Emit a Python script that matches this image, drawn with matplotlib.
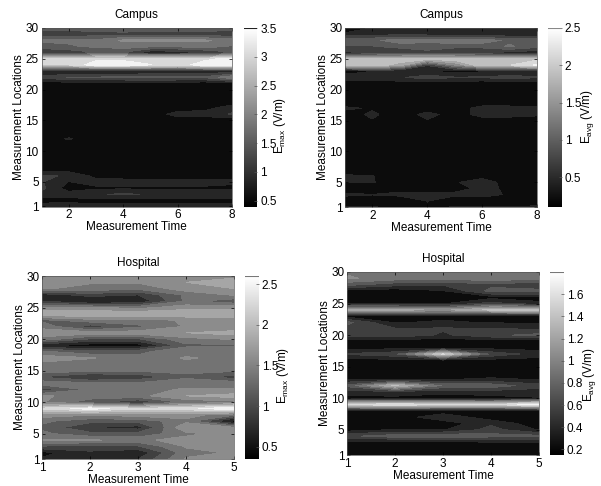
import numpy as np
import matplotlib
matplotlib.use('Agg')
import matplotlib.pyplot as plt
from matplotlib.cm import ScalarMappable
from matplotlib.colors import Normalize

plt.rcParams['font.family'] = ['Liberation Sans', 'DejaVu Sans']
plt.rcParams['mathtext.default'] = 'regular'

W, H = 601, 486

locations = np.arange(1, 31)
time_campus = np.arange(1, 9)
time_hospital = np.arange(1, 6)

# rows are measurement locations 1..30, columns are measurement times
campus_max = [
    [.90, .90, .80, .85, .90, .90, .85, .85],
    [.55, .60, .60, .60, .55, .55, .60, .60],
    [.95, .85, 1.0, 1.05, 1.0, 1.0, 1.0, 1.0],
    [1.1, .55, .65, .65, .65, .65, .65, .60],
    [1.05, .70, .85, .85, .85, .85, .85, .80],
    [1.05, 1.0, .60, .55, .55, .55, .55, .55],
    [.55, .55, .40, .50, .50, .50, .50, .50],
    [.50, .50, .50, .50, .50, .45, .50, .50],
    [.42, .42, .50, .50, .50, .50, .50, .50],
    [.42, .45, .50, .50, .50, .50, .50, .50],
    [.50, .50, .50, .50, .50, .50, .50, .50],
    [.50, .75, .50, .50, .50, .50, .50, .50],
    [.50, .50, .50, .50, .50, .50, .50, .50],
    [.42, .42, .42, .50, .50, .50, .50, .50],
    [.50, .50, .50, .50, .50, .50, .50, .50],
    [.50, .50, .50, .50, .50, .85, .85, 1.05],
    [.50, .50, .50, .50, .50, .55, .60, .90],
    [.50, .50, .50, .50, .50, .50, .50, .50],
    [.50, .50, .50, .50, .50, .50, .50, .50],
    [.50, .50, .50, .50, .50, .50, .50, .50],
    [.55, .55, .55, .55, .60, .55, .50, .60],
    [1.1, 1.35, 1.35, 1.4, 1.4, 1.4, 1.4, 1.9],
    [.75, .65, .65, .65, .70, .80, .75, .80],
    [2.9, 2.9, 3.4, 3.4, 3.2, 3.0, 3.4, 3.4],
    [2.9, 2.9, 3.1, 3.1, 3.1, 3.1, 3.1, 3.3],
    [1.0, 1.1, 1.3, 1.3, .75, .80, 1.0, 1.3],
    [1.5, 1.6, 1.7, 1.8, 1.7, 1.7, 1.8, 1.6],
    [1.7, 1.7, 1.7, 2.0, 2.0, 2.0, 2.0, 1.8],
    [1.1, 1.1, 1.2, 1.2, 1.1, 1.2, 1.1, 1.1],
    [1.5, 1.5, 1.5, 1.6, 1.6, 1.5, 1.6, 1.5],
]

campus_avg = [
    [.35, .35, .30, .30, .35, .35, .35, .35],
    [.15, .15, .15, .35, .15, .15, .15, .30],
    [.40, .35, .40, .40, .40, .45, .30, .30],
    [.15, .15, .25, .25, .25, .40, .30, .20],
    [.35, .35, .25, .20, .30, .55, .15, .15],
    [.40, .35, .20, .15, .15, .20, .15, .15],
    [.15, .15, .15, .15, .15, .15, .15, .15],
    [.15, .15, .15, .15, .15, .15, .10, .15],
    [.15, .15, .15, .15, .15, .15, .15, .15],
    [.15, .15, .15, .15, .15, .15, .15, .15],
    [.15, .15, .15, .15, .15, .15, .15, .15],
    [.15, .15, .15, .15, .15, .15, .15, .15],
    [.15, .15, .15, .15, .15, .15, .15, .15],
    [.15, .15, .15, .15, .15, .15, .15, .15],
    [.15, .32, .15, .32, .15, .20, .20, .15],
    [.20, .40, .15, .45, .20, .45, .45, .40],
    [.40, .30, .30, .15, .20, .45, .45, .40],
    [.15, .15, .15, .15, .15, .15, .15, .15],
    [.15, .15, .15, .15, .15, .15, .15, .15],
    [.15, .15, .15, .15, .15, .15, .15, .15],
    [.20, .20, .20, .20, .20, .15, .20, .20],
    [.50, .50, .55, .70, .60, .60, .70, .60],
    [.25, .30, .30, .35, .25, .30, .35, .35],
    [1.8, 1.9, 1.7, .60, 1.3, 2.0, 2.0, 2.3],
    [1.9, 1.9, 1.9, 1.9, 1.95, 1.9, 1.9, 1.95],
    [.50, .55, .60, .70, .55, .55, .50, .40],
    [.80, .80, .90, 1.0, .90, .90, 1.1, .90],
    [1.0, 1.0, 1.2, 1.1, 1.2, 1.2, 1.0, 1.0],
    [.40, .50, .50, .50, .40, .35, .40, .40],
    [.15, .35, .35, .35, .35, .50, .50, .40],
]

hospital_max = [
    [.60, .80, .80, 1.5, 1.5],
    [.50, .75, .60, 1.4, 1.5],
    [1.0, .95, 1.0, 1.5, 1.6],
    [1.5, 1.5, 1.4, 1.6, 1.6],
    [1.3, 1.1, 1.1, 1.4, 1.6],
    [1.2, .80, .70, 1.7, 1.5],
    [1.3, 1.1, 1.1, 1.4, .40],
    [1.6, 1.5, 1.6, 1.6, 1.3],
    [2.2, 2.5, 2.2, 2.3, 2.6],
    [1.5, 1.1, .80, 1.3, 1.4],
    [1.5, 1.4, 1.4, 1.7, 1.8],
    [.90, 1.3, 1.4, 1.5, 1.5],
    [1.4, 1.3, 1.3, 1.4, 1.4],
    [1.0, .75, .85, 1.2, .90],
    [1.4, 1.3, 1.3, 1.3, 1.3],
    [1.4, 1.3, 1.4, 1.4, 1.4],
    [1.6, 1.5, 1.3, 1.5, 1.4],
    [1.3, 1.1, 1.2, 1.4, 1.4],
    [.60, .45, .45, 1.2, 1.2],
    [1.4, 1.0, 1.0, 1.4, 1.5],
    [1.6, 1.6, 1.6, 1.7, 1.8],
    [1.4, .90, 1.2, 1.5, 1.5],
    [1.2, 1.4, 1.4, 1.5, 1.5],
    [1.9, 1.9, 1.9, 1.9, 1.9],
    [1.5, 1.5, 1.4, 1.6, 1.6],
    [.80, .50, .60, 1.3, 1.1],
    [.65, .90, .80, 1.3, 1.5],
    [1.5, 1.4, 1.3, 1.6, 1.7],
    [1.5, 1.5, 1.5, 1.7, 1.9],
    [1.6, 1.6, 1.5, 1.6, 1.6],
]

hospital_avg = [
    [.25, .25, .25, .15, .25],
    [.20, .20, .20, .15, .20],
    [.25, .20, .25, .30, .30],
    [.60, .75, .80, .70, .70],
    [.30, .30, .30, .55, .30],
    [.20, .20, .20, .45, .20],
    [.20, .20, .45, .20, .20],
    [.20, .20, .20, .20, .20],
    [1.55, 1.6, 1.55, 1.5, 1.75],
    [.25, .25, .25, .25, .30],
    [.40, .45, .35, .40, .40],
    [.70, 1.35, .80, .75, .55],
    [.30, .30, .30, .35, .30],
    [.20, .20, .20, .20, .20],
    [.20, .20, .20, .20, .20],
    [.25, .25, .25, .25, .25],
    [.50, .60, 1.5, .60, .40],
    [.25, .25, .25, .25, .25],
    [.20, .20, .20, .20, .20],
    [.55, .60, .45, .60, .70],
    [.55, .50, .50, .50, .45],
    [.70, .30, .35, .30, .30],
    [.25, .25, .25, .25, .25],
    [1.2, 1.2, 1.1, 1.35, 1.4],
    [.30, .30, .30, .55, .35],
    [.20, .20, .20, .25, .25],
    [.25, .20, .30, .70, .70],
    [.70, .55, .50, .60, .50],
    [1.0, .90, .90, .90, .90],
    [.95, .85, .85, .85, .90],
]

location_ticks = [1, 5, 10, 15, 20, 25, 30]
time_ticks_campus = [2, 4, 6, 8]
time_ticks_hospital = [1, 2, 3, 4, 5]
cbar_ticks_1 = [0.5, 1, 1.5, 2, 2.5, 3, 3.5]
cbar_labels_1 = ['0.5', '1', '1.5', '2', '2.5', '3', '3.5']
cbar_ticks_2 = [0.5, 1, 1.5, 2, 2.5]
cbar_labels_2 = ['0.5', '1', '1.5', '2', '2.5']
cbar_ticks_3 = [0.5, 1, 1.5, 2, 2.5]
cbar_labels_3 = ['0.5', '1', '1.5', '2', '2.5']
cbar_ticks_4 = [0.2, 0.4, 0.6, 0.8, 1, 1.2, 1.4, 1.6]
cbar_labels_4 = ['0.2', '0.4', '0.6', '0.8', '1', '1.2', '1.4', '1.6']


def px_rect(left, top, right, bottom):
    return [left / W, 1 - bottom / H, (right - left) / W, (bottom - top) / H]


def draw_panel(fig, box, cbox, title, x, z, xticks, vmin, vmax, cticks, clabels, label, label_xy, strip):
    ax = fig.add_axes(px_rect(*box))
    norm = Normalize(vmin, vmax)
    levels = np.linspace(vmin, vmax, 11)
    ax.contourf(x, locations, np.array(z), levels=levels, cmap='gray', norm=norm, extend='both')
    ax.set_xticks(xticks)
    ax.set_yticks(location_ticks)
    ax.tick_params(direction='in', top=True, right=True, length=2, width=0.5, labelsize=8.5, pad=2)
    ax.set_xlabel('Measurement Time', fontsize=8.5, labelpad=0)
    ax.set_ylabel('Measurement Locations', fontsize=8.5, labelpad=0)
    ax.set_title(title, fontsize=8.5, pad=7)
    for s in ax.spines.values():
        s.set_linewidth(0.5)
        s.set_color('#555555')

    cax = fig.add_axes(px_rect(*cbox))
    sm = ScalarMappable(norm=norm, cmap='gray')
    cb = fig.colorbar(sm, cax=cax)
    cb.set_ticks(cticks)
    cb.set_ticklabels(clabels)
    cb.ax.tick_params(direction='in', length=2, width=0.5, labelsize=8.5, pad=2, color='#555555')
    cb.outline.set_visible(False)
    cax.axhline(vmax, color=strip, lw=1.5)
    fig.text(label_xy[0] / W, 1 - label_xy[1] / H, label, rotation=90, ha='center', va='center', fontsize=8.5)


def main():
    fig = plt.figure(figsize=(W / 100, H / 100), dpi=100)
    draw_panel(fig, (41.5, 28, 232, 206.5), (244, 28, 257.5, 206.5), 'Campus', time_campus, campus_max,
               time_ticks_campus, 0.4, 3.5, cbar_ticks_1, cbar_labels_1, r'E$_{max}$ (V/m)', (280, 125), '#222222')
    draw_panel(fig, (345, 28, 537, 207), (548, 28, 562, 207), 'Campus', time_campus, campus_avg,
               time_ticks_campus, 0.1, 2.5, cbar_ticks_2, cbar_labels_2, r'E$_{avg}$ (V/m)', (588, 117), '#888888')
    draw_panel(fig, (42, 276, 234, 459), (245, 276, 259, 459), 'Hospital', time_hospital, hospital_max,
               time_ticks_hospital, 0.35, 2.6, cbar_ticks_3, cbar_labels_3, r'E$_{max}$ (V/m)', (283, 375), '#777777')
    draw_panel(fig, (347, 272, 539, 455), (550, 272, 564, 455), 'Hospital', time_hospital, hospital_avg,
               time_ticks_hospital, 0.15, 1.8, cbar_ticks_4, cbar_labels_4, r'E$_{avg}$ (V/m)', (590, 375), '#777777')
    fig.savefig('out.png', dpi=100)


if __name__ == "__main__":
    main()
